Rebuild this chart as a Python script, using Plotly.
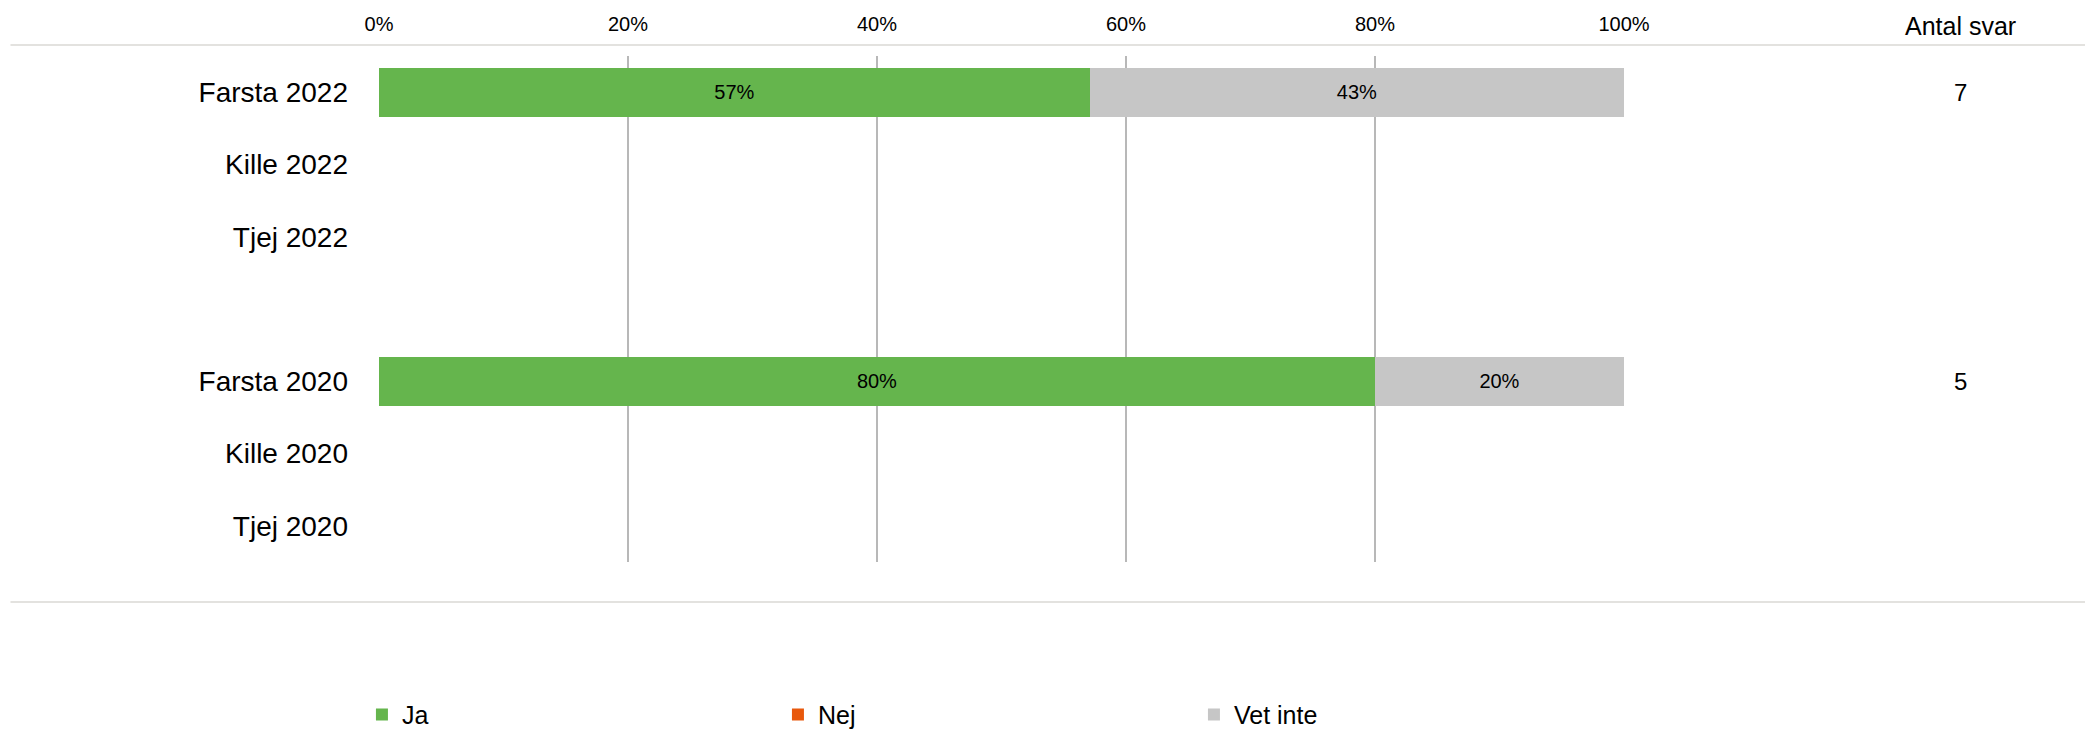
import plotly.graph_objects as go

categories = ["Farsta 2022", "Kille 2022", "Tjej 2022", " ", "Farsta 2020", "Kille 2020", "Tjej 2020"]
ja = [0.571, None, None, None, 0.80, None, None]
nej = [None, None, None, None, None, None, None]
vet_inte = [0.429, None, None, None, 0.20, None, None]
antal_svar = ["7", "", "", "", "5", "", ""]
x_ticks = [0, 0.2, 0.4, 0.6, 0.8, 1.0]
x_tick_labels = ["0%", "20%", "40%", "60%", "80%", "100%"]

series = [("Ja", ja, "#65B54D"), ("Nej", nej, "#E8580C"), ("Vet inte", vet_inte, "#C6C6C6")]

FONT = "Liberation Sans, Arial, sans-serif"

fig = go.Figure()
for name, vals, col in series:
    fig.add_trace(go.Bar(
        y=categories, x=vals, name=name, orientation="h",
        marker=dict(color=col, line=dict(width=0)),
        texttemplate="%{x:.0%}", textposition="inside", insidetextanchor="middle",
        textangle=0, textfont=dict(family=FONT, size=20, color="#000000"),
        width=0.68,
    ))

for cat, n in zip(categories, antal_svar):
    if n:
        fig.add_annotation(x=1.0, xref="paper", xshift=336, xanchor="center", yanchor="middle",
                           y=cat, yref="y", text=n, showarrow=False,
                           font=dict(family=FONT, size=24, color="#000000"))

fig.add_annotation(x=1.0, xref="paper", xshift=336, xanchor="center", y=1.0, yref="paper",
                   yanchor="middle", yshift=30, borderpad=0, text="Antal svar", showarrow=False,
                   font=dict(family=FONT, size=25, color="#000000"))

# horizontal separator lines
fig.add_shape(type="line", xref="paper", yref="paper", x0=-0.296, x1=1.377, y0=1.0217, y1=1.0217,
              line=dict(color="#DAD8D4", width=1.5))
fig.add_shape(type="line", xref="paper", yref="paper", x0=-0.296, x1=1.377, y0=-0.079, y1=-0.079,
              line=dict(color="#DAD8D4", width=1.5))

fig.update_layout(
    barmode="stack",
    width=2085, height=724,
    margin=dict(l=371, r=469, t=48, b=170, autoexpand=False),
    plot_bgcolor="white", paper_bgcolor="white",
    font=dict(family=FONT, color="#000000"),
    legend=dict(orientation="h", x=-0.0137, xanchor="left", y=-0.302, yanchor="middle",
                entrywidth=371, entrywidthmode="pixels",
                font=dict(family=FONT, size=25, color="#000000"),
                traceorder="normal"),
    showlegend=True,
)
fig.update_xaxes(side="top", range=[0, 1], tickvals=x_ticks, ticktext=x_tick_labels,
                 showgrid=True, gridcolor="#B8B8B8", gridwidth=1.5, zeroline=False,
                 showline=False, ticks="", ticklabelstandoff=20,
                 tickfont=dict(family=FONT, size=20, color="#000000"), fixedrange=True)
fig.update_yaxes(categoryorder="array", categoryarray=categories, autorange="reversed",
                 showgrid=False, zeroline=False, showline=False, ticks="",
                 ticklabelstandoff=30,
                 tickfont=dict(family=FONT, size=28, color="#000000"))

fig.write_html("out.html")
